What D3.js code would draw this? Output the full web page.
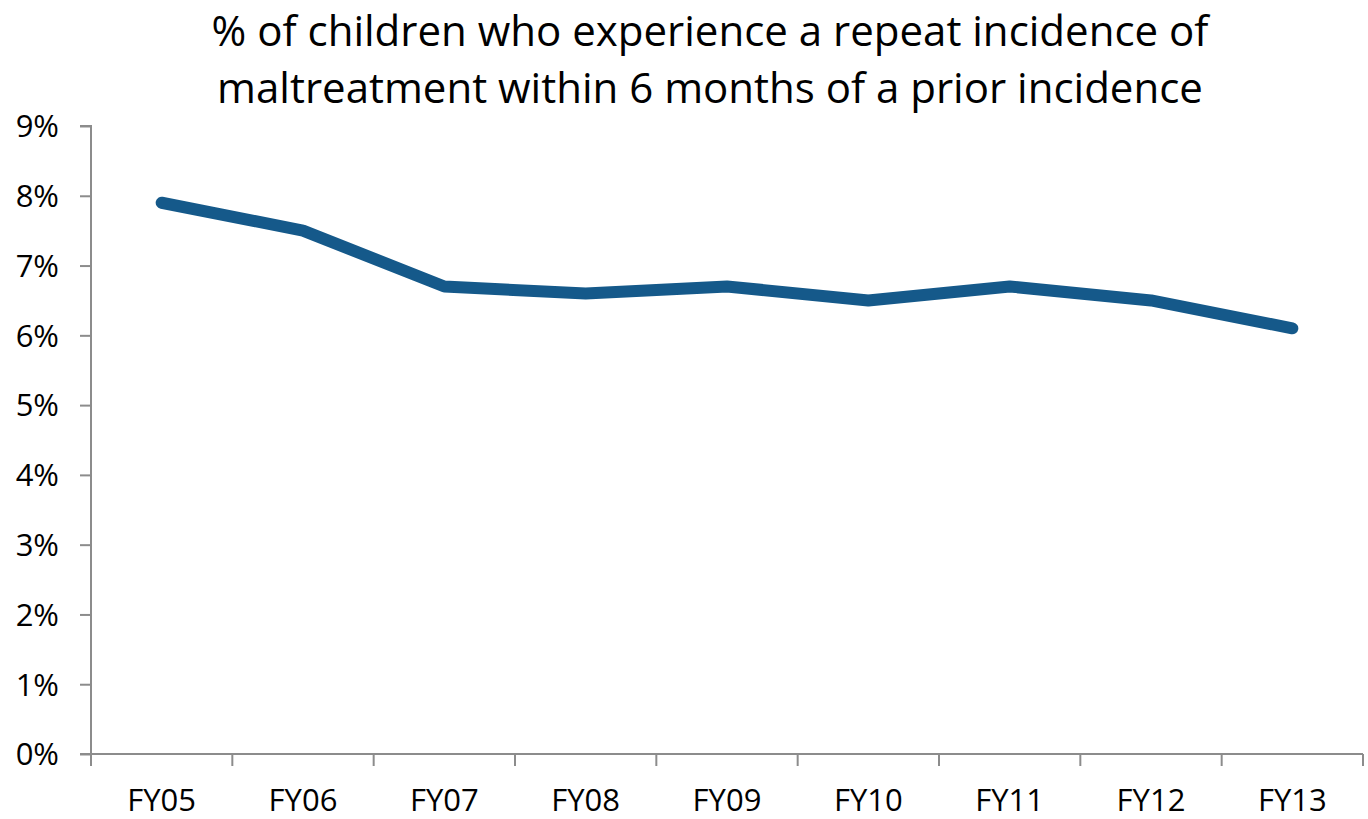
<!DOCTYPE html>
<html lang="en">
<head>
<meta charset="UTF-8">
<title>Repeat maltreatment</title>
<script src="https://d3js.org/d3.v7.min.js"></script>
<style>
  body { margin: 0; background: #fff; }
  text { font-family: "Open Sans", "Noto Sans", sans-serif; fill: #000; }
</style>
</head>
<body>
<svg id="chart" width="1368" height="819"></svg>
<script>
let years = ["FY05", "FY06", "FY07", "FY08", "FY09", "FY10", "FY11", "FY12", "FY13"]
let rates = [7.9, 7.5, 6.7, 6.6, 6.7, 6.5, 6.7, 6.5, 6.1]
let yTicks = [0, 1, 2, 3, 4, 5, 6, 7, 8, 9]
let titleLines = ["% of children who experience a repeat incidence of",
                  "maltreatment within 6 months of a prior incidence"]

let svg = d3.select('#chart')
let plotLeft = 91, plotRight = 1363, plotTop = 126, plotBottom = 754

let x = d3.scaleBand().domain(years).range([plotLeft, plotRight])
let y = d3.scaleLinear().domain([0, 9]).range([plotBottom, plotTop])

// title
svg.selectAll('.title')
   .data(titleLines)
   .enter()
   .append('text')
   .attr('class', 'title')
   .attr('x', 710)
   .attr('y', (d, i) => 46 + i * 57)
   .attr('text-anchor', 'middle')
   .style('font-size', '42px')
   .text(d => d)

// y axis
let yAxis = svg.append('g')
   .attr('transform', 'translate(' + plotLeft + ',0)')
   .call(d3.axisLeft(y).tickValues(yTicks).tickFormat(d => d + '%').tickSize(11).tickPadding(21))
yAxis.selectAll('text').style('font-size', '31px').attr('dy', '0.35em')

// x axis
let xAxis = svg.append('g')
   .attr('transform', 'translate(0,' + plotBottom + ')')
   .call(d3.axisBottom(x).tickSize(0).tickPadding(46))
xAxis.selectAll('text').style('font-size', '31px').attr('dy', '0.35em')
// tick marks between categories
xAxis.selectAll('.sep')
   .data(d3.range(years.length + 1))
   .enter()
   .append('line')
   .attr('class', 'sep')
   .attr('x1', i => plotLeft + i * x.step())
   .attr('x2', i => plotLeft + i * x.step())
   .attr('y1', 0)
   .attr('y2', 12)

svg.selectAll('.domain, .tick line, .sep')
   .attr('stroke', '#8c8c8c')
   .attr('stroke-width', 2)
yAxis.select('.domain').attr('d', 'M-11,' + plotTop + 'H0V' + plotBottom + 'H-11')
xAxis.select('.domain').attr('d', 'M' + plotLeft + ',0H' + plotRight)

// line
let line = d3.line()
   .x((d, i) => x(years[i]) + x.bandwidth() / 2)
   .y(d => y(d))

svg.append('path')
   .datum(rates)
   .attr('d', line)
   .attr('fill', 'none')
   .attr('stroke', '#15598a')
   .attr('stroke-width', 12)
   .attr('stroke-linecap', 'round')
   .attr('stroke-linejoin', 'round')
</script>
</body>
</html>
